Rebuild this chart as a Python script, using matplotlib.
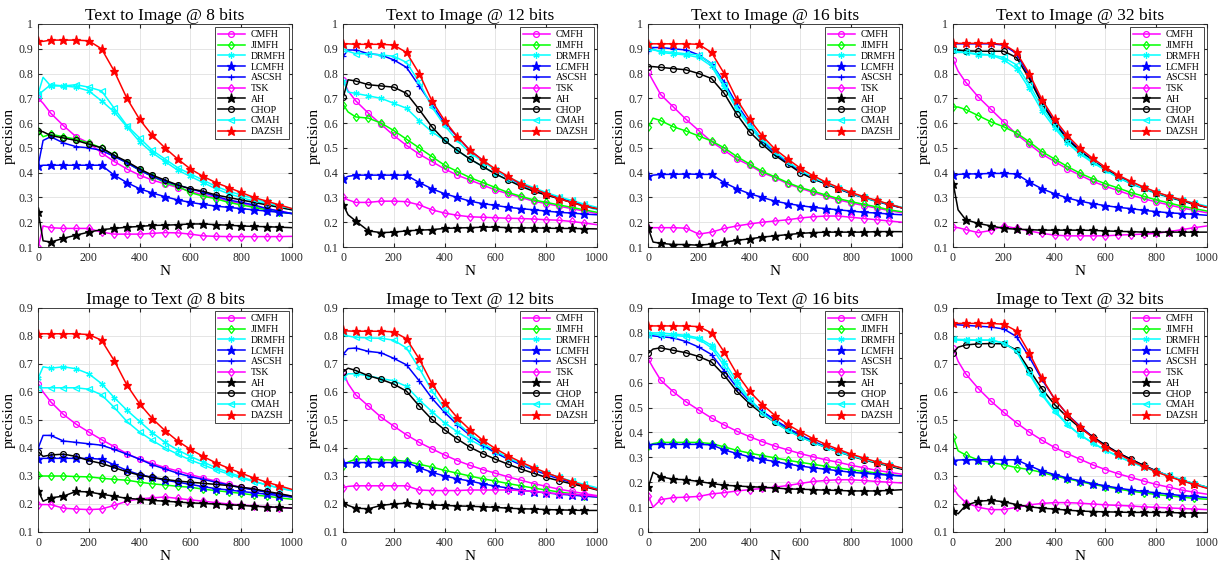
import matplotlib
matplotlib.use("Agg")
import matplotlib.pyplot as plt
from matplotlib.ticker import FuncFormatter, MultipleLocator

plt.rcParams['font.family'] = ['Liberation Serif', 'DejaVu Serif']

N = [1, 20, 50, 100, 150, 200, 250, 300, 350, 400, 450, 500, 550, 600,
     650, 700, 750, 800, 850, 900, 950, 1000]
methods = ["CMFH", "JIMFH", "DRMFH", "LCMFH", "ASCSH", "TSK", "AH", "CHOP", "CMAH", "DAZSH"]
titles = ["Text to Image @ 8 bits", "Text to Image @ 12 bits", "Text to Image @ 16 bits",
          "Text to Image @ 32 bits", "Image to Text @ 8 bits", "Image to Text @ 12 bits",
          "Image to Text @ 16 bits", "Image to Text @ 32 bits"]
ylims = [(0.1, 1.0)] * 4 + [(0.1, 0.9), (0.1, 0.9), (0.0, 0.9), (0.1, 0.9)]

t2i_8 = {
    "CMFH":  [0.70, 0.68, 0.64, 0.59, 0.545, 0.52, 0.48, 0.445, 0.415, 0.39, 0.37, 0.355, 0.34, 0.325, 0.31, 0.30, 0.285, 0.275, 0.265, 0.255, 0.245, 0.235],
    "JIMFH": [0.57, 0.545, 0.555, 0.545, 0.535, 0.52, 0.50, 0.47, 0.44, 0.41, 0.385, 0.36, 0.345, 0.32, 0.305, 0.295, 0.28, 0.27, 0.26, 0.25, 0.24, 0.235],
    "DRMFH": [0.72, 0.785, 0.75, 0.75, 0.745, 0.73, 0.69, 0.645, 0.585, 0.525, 0.48, 0.445, 0.41, 0.385, 0.36, 0.335, 0.315, 0.30, 0.285, 0.275, 0.26, 0.25],
    "LCMFH": [0.425, 0.43, 0.43, 0.43, 0.43, 0.43, 0.43, 0.39, 0.36, 0.335, 0.318, 0.303, 0.29, 0.28, 0.272, 0.265, 0.26, 0.255, 0.25, 0.245, 0.24, 0.235],
    "ASCSH": [0.43, 0.53, 0.545, 0.52, 0.505, 0.50, 0.49, 0.465, 0.44, 0.41, 0.385, 0.365, 0.35, 0.335, 0.32, 0.305, 0.29, 0.28, 0.27, 0.255, 0.245, 0.235],
    "TSK":   [0.10, 0.185, 0.178, 0.175, 0.175, 0.175, 0.16, 0.152, 0.152, 0.152, 0.155, 0.158, 0.157, 0.152, 0.145, 0.143, 0.142, 0.142, 0.142, 0.142, 0.142, 0.143],
    "AH":    [0.24, 0.125, 0.12, 0.135, 0.148, 0.16, 0.17, 0.175, 0.18, 0.183, 0.187, 0.188, 0.19, 0.193, 0.193, 0.19, 0.188, 0.185, 0.183, 0.182, 0.18, 0.178],
    "CHOP":  [0.57, 0.565, 0.55, 0.54, 0.53, 0.515, 0.50, 0.47, 0.445, 0.415, 0.39, 0.37, 0.35, 0.335, 0.325, 0.31, 0.30, 0.29, 0.28, 0.27, 0.26, 0.25],
    "CMAH":  [0.715, 0.73, 0.755, 0.75, 0.755, 0.745, 0.73, 0.66, 0.59, 0.54, 0.49, 0.455, 0.42, 0.395, 0.37, 0.345, 0.325, 0.31, 0.295, 0.28, 0.265, 0.255],
    "DAZSH": [0.93, 0.93, 0.935, 0.935, 0.935, 0.932, 0.90, 0.81, 0.70, 0.615, 0.55, 0.50, 0.455, 0.415, 0.385, 0.36, 0.34, 0.32, 0.30, 0.285, 0.27, 0.255],
}
t2i_12 = {
    "CMFH":  [0.775, 0.73, 0.69, 0.64, 0.595, 0.55, 0.51, 0.475, 0.445, 0.415, 0.39, 0.37, 0.35, 0.33, 0.315, 0.30, 0.285, 0.275, 0.265, 0.255, 0.245, 0.235],
    "JIMFH": [0.675, 0.645, 0.625, 0.62, 0.60, 0.57, 0.535, 0.50, 0.465, 0.43, 0.405, 0.38, 0.36, 0.34, 0.32, 0.305, 0.29, 0.28, 0.27, 0.26, 0.25, 0.24],
    "DRMFH": [0.77, 0.725, 0.72, 0.71, 0.70, 0.68, 0.66, 0.61, 0.565, 0.53, 0.49, 0.455, 0.425, 0.395, 0.37, 0.35, 0.33, 0.31, 0.295, 0.28, 0.265, 0.25],
    "LCMFH": [0.375, 0.385, 0.39, 0.39, 0.39, 0.39, 0.39, 0.36, 0.335, 0.315, 0.30, 0.285, 0.275, 0.268, 0.26, 0.255, 0.25, 0.245, 0.24, 0.237, 0.233, 0.23],
    "ASCSH": [0.87, 0.895, 0.895, 0.88, 0.875, 0.855, 0.825, 0.75, 0.675, 0.60, 0.545, 0.49, 0.45, 0.41, 0.38, 0.355, 0.335, 0.315, 0.298, 0.283, 0.27, 0.255],
    "TSK":   [0.30, 0.29, 0.28, 0.28, 0.285, 0.285, 0.283, 0.27, 0.25, 0.237, 0.228, 0.222, 0.22, 0.218, 0.216, 0.215, 0.213, 0.21, 0.208, 0.203, 0.197, 0.19],
    "AH":    [0.27, 0.23, 0.205, 0.165, 0.158, 0.16, 0.165, 0.168, 0.17, 0.175, 0.177, 0.178, 0.18, 0.18, 0.178, 0.177, 0.177, 0.176, 0.175, 0.175, 0.174, 0.173],
    "CHOP":  [0.705, 0.775, 0.77, 0.755, 0.75, 0.745, 0.72, 0.655, 0.585, 0.53, 0.49, 0.455, 0.425, 0.395, 0.37, 0.345, 0.325, 0.31, 0.295, 0.28, 0.265, 0.255],
    "CMAH":  [0.90, 0.89, 0.88, 0.88, 0.875, 0.87, 0.845, 0.765, 0.665, 0.59, 0.53, 0.48, 0.445, 0.41, 0.38, 0.36, 0.34, 0.32, 0.303, 0.288, 0.273, 0.26],
    "DAZSH": [0.92, 0.92, 0.918, 0.918, 0.918, 0.915, 0.885, 0.80, 0.69, 0.61, 0.545, 0.49, 0.45, 0.415, 0.385, 0.355, 0.335, 0.315, 0.295, 0.28, 0.265, 0.255],
}
t2i_16 = {
    "CMFH":  [0.805, 0.77, 0.715, 0.665, 0.615, 0.57, 0.525, 0.49, 0.455, 0.43, 0.40, 0.38, 0.355, 0.337, 0.32, 0.305, 0.29, 0.278, 0.267, 0.257, 0.247, 0.238],
    "JIMFH": [0.585, 0.62, 0.61, 0.585, 0.568, 0.548, 0.528, 0.50, 0.465, 0.435, 0.405, 0.383, 0.36, 0.34, 0.325, 0.31, 0.295, 0.283, 0.272, 0.262, 0.25, 0.242],
    "DRMFH": [0.925, 0.90, 0.885, 0.88, 0.875, 0.865, 0.83, 0.745, 0.655, 0.585, 0.525, 0.475, 0.44, 0.405, 0.375, 0.355, 0.335, 0.315, 0.298, 0.283, 0.27, 0.258],
    "LCMFH": [0.385, 0.39, 0.393, 0.393, 0.395, 0.393, 0.393, 0.36, 0.335, 0.315, 0.30, 0.285, 0.275, 0.267, 0.26, 0.255, 0.25, 0.245, 0.24, 0.237, 0.233, 0.23],
    "ASCSH": [0.89, 0.905, 0.905, 0.90, 0.895, 0.875, 0.84, 0.765, 0.675, 0.60, 0.53, 0.48, 0.44, 0.405, 0.375, 0.355, 0.335, 0.315, 0.30, 0.285, 0.27, 0.258],
    "TSK":   [0.175, 0.178, 0.178, 0.178, 0.176, 0.152, 0.16, 0.175, 0.185, 0.193, 0.20, 0.205, 0.21, 0.217, 0.222, 0.225, 0.225, 0.22, 0.215, 0.21, 0.205, 0.20],
    "AH":    [0.175, 0.12, 0.115, 0.11, 0.11, 0.107, 0.112, 0.12, 0.127, 0.133, 0.14, 0.145, 0.15, 0.155, 0.158, 0.16, 0.16, 0.16, 0.16, 0.162, 0.162, 0.162],
    "CHOP":  [0.828, 0.828, 0.825, 0.82, 0.815, 0.80, 0.78, 0.72, 0.635, 0.565, 0.515, 0.47, 0.435, 0.40, 0.375, 0.355, 0.335, 0.317, 0.30, 0.285, 0.272, 0.258],
    "CMAH":  [0.905, 0.895, 0.89, 0.885, 0.88, 0.875, 0.84, 0.755, 0.665, 0.595, 0.535, 0.485, 0.445, 0.41, 0.38, 0.358, 0.338, 0.318, 0.30, 0.286, 0.273, 0.26],
    "DAZSH": [0.92, 0.92, 0.92, 0.92, 0.92, 0.918, 0.885, 0.80, 0.695, 0.615, 0.548, 0.495, 0.455, 0.418, 0.388, 0.362, 0.34, 0.32, 0.303, 0.288, 0.273, 0.258],
}
t2i_32 = {
    "CMFH":  [0.855, 0.81, 0.765, 0.705, 0.655, 0.605, 0.555, 0.515, 0.475, 0.445, 0.415, 0.39, 0.365, 0.345, 0.328, 0.31, 0.295, 0.282, 0.27, 0.258, 0.248, 0.238],
    "JIMFH": [0.665, 0.665, 0.655, 0.63, 0.605, 0.585, 0.56, 0.525, 0.485, 0.455, 0.425, 0.398, 0.375, 0.355, 0.338, 0.32, 0.305, 0.29, 0.278, 0.265, 0.255, 0.245],
    "DRMFH": [0.895, 0.89, 0.885, 0.875, 0.875, 0.855, 0.82, 0.74, 0.65, 0.58, 0.52, 0.475, 0.44, 0.41, 0.38, 0.355, 0.335, 0.315, 0.30, 0.285, 0.272, 0.26],
    "LCMFH": [0.39, 0.393, 0.395, 0.395, 0.397, 0.397, 0.395, 0.362, 0.335, 0.315, 0.298, 0.285, 0.275, 0.267, 0.26, 0.255, 0.248, 0.243, 0.238, 0.235, 0.232, 0.228],
    "ASCSH": [0.92, 0.92, 0.92, 0.92, 0.92, 0.915, 0.88, 0.79, 0.685, 0.605, 0.54, 0.49, 0.45, 0.415, 0.385, 0.36, 0.34, 0.32, 0.303, 0.288, 0.273, 0.26],
    "TSK":   [0.18, 0.178, 0.17, 0.158, 0.167, 0.185, 0.175, 0.165, 0.155, 0.148, 0.145, 0.145, 0.145, 0.145, 0.148, 0.15, 0.152, 0.155, 0.162, 0.17, 0.178, 0.185],
    "AH":    [0.355, 0.25, 0.21, 0.195, 0.185, 0.175, 0.172, 0.17, 0.168, 0.168, 0.168, 0.168, 0.167, 0.165, 0.163, 0.162, 0.16, 0.16, 0.16, 0.16, 0.16, 0.16],
    "CHOP":  [0.895, 0.895, 0.892, 0.89, 0.89, 0.89, 0.865, 0.78, 0.68, 0.60, 0.535, 0.487, 0.448, 0.413, 0.383, 0.358, 0.338, 0.318, 0.302, 0.287, 0.273, 0.26],
    "CMAH":  [0.895, 0.885, 0.885, 0.88, 0.875, 0.865, 0.835, 0.755, 0.665, 0.59, 0.525, 0.48, 0.445, 0.41, 0.38, 0.358, 0.338, 0.32, 0.303, 0.29, 0.277, 0.265],
    "DAZSH": [0.922, 0.922, 0.922, 0.922, 0.922, 0.918, 0.885, 0.80, 0.695, 0.615, 0.55, 0.498, 0.458, 0.422, 0.39, 0.365, 0.342, 0.322, 0.305, 0.29, 0.275, 0.26],
}
i2t_8 = {
    "CMFH":  [0.63, 0.60, 0.565, 0.52, 0.485, 0.457, 0.43, 0.405, 0.38, 0.36, 0.345, 0.33, 0.318, 0.305, 0.293, 0.282, 0.27, 0.26, 0.252, 0.243, 0.235, 0.228],
    "JIMFH": [0.305, 0.30, 0.30, 0.30, 0.298, 0.297, 0.292, 0.288, 0.285, 0.278, 0.272, 0.268, 0.263, 0.26, 0.253, 0.248, 0.243, 0.238, 0.232, 0.228, 0.222, 0.217],
    "DRMFH": [0.65, 0.69, 0.685, 0.69, 0.683, 0.665, 0.63, 0.58, 0.535, 0.495, 0.455, 0.42, 0.393, 0.37, 0.35, 0.33, 0.313, 0.297, 0.282, 0.268, 0.257, 0.247],
    "LCMFH": [0.362, 0.363, 0.363, 0.363, 0.363, 0.363, 0.36, 0.34, 0.32, 0.305, 0.295, 0.285, 0.278, 0.27, 0.262, 0.255, 0.25, 0.245, 0.24, 0.235, 0.23, 0.225],
    "ASCSH": [0.40, 0.445, 0.445, 0.425, 0.42, 0.415, 0.41, 0.395, 0.378, 0.36, 0.34, 0.325, 0.31, 0.298, 0.288, 0.278, 0.268, 0.258, 0.25, 0.242, 0.233, 0.225],
    "TSK":   [0.198, 0.198, 0.198, 0.185, 0.182, 0.18, 0.182, 0.195, 0.21, 0.218, 0.222, 0.225, 0.22, 0.215, 0.21, 0.205, 0.20, 0.197, 0.193, 0.19, 0.187, 0.185],
    "AH":    [0.247, 0.21, 0.222, 0.228, 0.245, 0.243, 0.235, 0.228, 0.22, 0.217, 0.213, 0.21, 0.207, 0.204, 0.202, 0.20, 0.197, 0.195, 0.192, 0.19, 0.188, 0.185],
    "CHOP":  [0.387, 0.37, 0.375, 0.378, 0.37, 0.355, 0.345, 0.33, 0.315, 0.303, 0.295, 0.288, 0.282, 0.278, 0.274, 0.27, 0.266, 0.26, 0.254, 0.245, 0.237, 0.228],
    "CMAH":  [0.615, 0.615, 0.615, 0.615, 0.615, 0.61, 0.59, 0.545, 0.495, 0.457, 0.427, 0.40, 0.378, 0.357, 0.34, 0.322, 0.307, 0.292, 0.28, 0.268, 0.258, 0.248],
    "DAZSH": [0.808, 0.808, 0.808, 0.808, 0.808, 0.805, 0.785, 0.712, 0.625, 0.558, 0.505, 0.462, 0.425, 0.395, 0.37, 0.347, 0.328, 0.31, 0.293, 0.278, 0.265, 0.252],
}
i2t_12 = {
    "CMFH":  [0.67, 0.63, 0.59, 0.55, 0.51, 0.478, 0.447, 0.42, 0.397, 0.375, 0.355, 0.338, 0.323, 0.31, 0.297, 0.285, 0.273, 0.263, 0.253, 0.245, 0.237, 0.23],
    "JIMFH": [0.335, 0.35, 0.36, 0.362, 0.358, 0.357, 0.352, 0.342, 0.332, 0.32, 0.31, 0.30, 0.29, 0.282, 0.273, 0.265, 0.257, 0.25, 0.243, 0.237, 0.23, 0.225],
    "DRMFH": [0.65, 0.665, 0.665, 0.658, 0.648, 0.64, 0.62, 0.572, 0.53, 0.49, 0.458, 0.43, 0.405, 0.383, 0.362, 0.343, 0.325, 0.31, 0.295, 0.28, 0.265, 0.252],
    "LCMFH": [0.345, 0.347, 0.348, 0.348, 0.348, 0.348, 0.348, 0.33, 0.313, 0.30, 0.29, 0.282, 0.272, 0.264, 0.257, 0.25, 0.244, 0.24, 0.235, 0.232, 0.228, 0.225],
    "ASCSH": [0.735, 0.755, 0.757, 0.745, 0.74, 0.72, 0.697, 0.64, 0.578, 0.527, 0.483, 0.445, 0.412, 0.383, 0.36, 0.34, 0.322, 0.305, 0.29, 0.277, 0.265, 0.253],
    "TSK":   [0.258, 0.263, 0.265, 0.265, 0.265, 0.265, 0.265, 0.25, 0.248, 0.248, 0.248, 0.25, 0.25, 0.25, 0.25, 0.248, 0.245, 0.24, 0.237, 0.235, 0.232, 0.228],
    "AH":    [0.205, 0.195, 0.185, 0.183, 0.195, 0.20, 0.203, 0.20, 0.197, 0.195, 0.193, 0.192, 0.19, 0.188, 0.185, 0.183, 0.182, 0.18, 0.179, 0.178, 0.177, 0.177],
    "CHOP":  [0.672, 0.685, 0.677, 0.658, 0.645, 0.628, 0.603, 0.55, 0.502, 0.465, 0.432, 0.403, 0.38, 0.36, 0.342, 0.325, 0.31, 0.295, 0.283, 0.272, 0.262, 0.25],
    "CMAH":  [0.81, 0.80, 0.795, 0.793, 0.792, 0.785, 0.757, 0.685, 0.605, 0.54, 0.49, 0.45, 0.418, 0.39, 0.365, 0.345, 0.327, 0.31, 0.295, 0.282, 0.27, 0.258],
    "DAZSH": [0.82, 0.818, 0.817, 0.817, 0.817, 0.815, 0.79, 0.718, 0.63, 0.562, 0.508, 0.465, 0.428, 0.398, 0.372, 0.35, 0.33, 0.312, 0.295, 0.28, 0.265, 0.252],
}
i2t_16 = {
    "CMFH":  [0.695, 0.66, 0.61, 0.563, 0.523, 0.49, 0.458, 0.43, 0.405, 0.383, 0.363, 0.345, 0.33, 0.315, 0.302, 0.29, 0.28, 0.268, 0.258, 0.248, 0.24, 0.232],
    "JIMFH": [0.345, 0.355, 0.36, 0.36, 0.36, 0.36, 0.355, 0.342, 0.328, 0.317, 0.307, 0.298, 0.288, 0.28, 0.272, 0.264, 0.257, 0.25, 0.243, 0.237, 0.23, 0.225],
    "DRMFH": [0.80, 0.80, 0.80, 0.795, 0.79, 0.78, 0.75, 0.685, 0.605, 0.535, 0.483, 0.445, 0.413, 0.385, 0.362, 0.343, 0.325, 0.308, 0.293, 0.28, 0.268, 0.256],
    "LCMFH": [0.35, 0.352, 0.352, 0.352, 0.352, 0.352, 0.35, 0.33, 0.315, 0.302, 0.292, 0.283, 0.273, 0.265, 0.258, 0.252, 0.246, 0.24, 0.236, 0.232, 0.228, 0.225],
    "ASCSH": [0.79, 0.788, 0.785, 0.78, 0.765, 0.743, 0.713, 0.648, 0.58, 0.525, 0.485, 0.45, 0.418, 0.39, 0.365, 0.343, 0.325, 0.308, 0.293, 0.28, 0.268, 0.255],
    "TSK":   [0.145, 0.10, 0.13, 0.138, 0.14, 0.143, 0.153, 0.158, 0.165, 0.17, 0.175, 0.18, 0.187, 0.195, 0.203, 0.207, 0.21, 0.21, 0.207, 0.203, 0.20, 0.197],
    "AH":    [0.18, 0.24, 0.222, 0.212, 0.21, 0.203, 0.195, 0.188, 0.185, 0.182, 0.18, 0.177, 0.173, 0.172, 0.17, 0.168, 0.167, 0.165, 0.165, 0.165, 0.167, 0.17],
    "CHOP":  [0.718, 0.735, 0.74, 0.73, 0.72, 0.705, 0.683, 0.63, 0.565, 0.515, 0.475, 0.44, 0.41, 0.383, 0.36, 0.34, 0.322, 0.305, 0.29, 0.277, 0.265, 0.252],
    "CMAH":  [0.79, 0.795, 0.79, 0.79, 0.785, 0.775, 0.74, 0.668, 0.59, 0.53, 0.478, 0.44, 0.408, 0.382, 0.36, 0.34, 0.322, 0.307, 0.292, 0.28, 0.268, 0.256],
    "DAZSH": [0.828, 0.828, 0.828, 0.828, 0.828, 0.825, 0.80, 0.723, 0.635, 0.565, 0.512, 0.468, 0.432, 0.402, 0.375, 0.352, 0.332, 0.313, 0.297, 0.282, 0.27, 0.257],
}
i2t_32 = {
    "CMFH":  [0.757, 0.71, 0.665, 0.612, 0.567, 0.527, 0.49, 0.457, 0.428, 0.402, 0.38, 0.36, 0.34, 0.323, 0.308, 0.295, 0.282, 0.27, 0.26, 0.25, 0.242, 0.235],
    "JIMFH": [0.44, 0.39, 0.375, 0.357, 0.348, 0.34, 0.33, 0.323, 0.313, 0.30, 0.29, 0.28, 0.27, 0.262, 0.253, 0.246, 0.24, 0.234, 0.229, 0.225, 0.22, 0.217],
    "DRMFH": [0.79, 0.788, 0.787, 0.785, 0.785, 0.775, 0.748, 0.67, 0.595, 0.535, 0.485, 0.447, 0.418, 0.392, 0.37, 0.35, 0.332, 0.315, 0.30, 0.285, 0.272, 0.26],
    "LCMFH": [0.355, 0.357, 0.358, 0.358, 0.358, 0.358, 0.358, 0.337, 0.318, 0.305, 0.293, 0.283, 0.273, 0.265, 0.257, 0.25, 0.245, 0.24, 0.235, 0.23, 0.227, 0.223],
    "ASCSH": [0.842, 0.84, 0.838, 0.835, 0.832, 0.825, 0.798, 0.725, 0.645, 0.575, 0.52, 0.478, 0.44, 0.41, 0.382, 0.36, 0.338, 0.318, 0.30, 0.285, 0.27, 0.258],
    "TSK":   [0.258, 0.232, 0.205, 0.188, 0.18, 0.18, 0.188, 0.197, 0.202, 0.205, 0.205, 0.203, 0.20, 0.197, 0.195, 0.193, 0.19, 0.188, 0.186, 0.184, 0.182, 0.18],
    "AH":    [0.175, 0.165, 0.195, 0.21, 0.213, 0.208, 0.198, 0.19, 0.185, 0.182, 0.178, 0.175, 0.173, 0.172, 0.171, 0.17, 0.17, 0.17, 0.17, 0.168, 0.168, 0.168],
    "CHOP":  [0.74, 0.76, 0.768, 0.772, 0.773, 0.772, 0.75, 0.68, 0.612, 0.555, 0.51, 0.472, 0.44, 0.41, 0.383, 0.36, 0.338, 0.318, 0.30, 0.285, 0.272, 0.26],
    "CMAH":  [0.79, 0.785, 0.785, 0.785, 0.785, 0.775, 0.745, 0.665, 0.59, 0.53, 0.483, 0.447, 0.418, 0.393, 0.37, 0.35, 0.333, 0.317, 0.302, 0.287, 0.273, 0.26],
    "DAZSH": [0.845, 0.845, 0.845, 0.845, 0.845, 0.842, 0.818, 0.74, 0.65, 0.575, 0.52, 0.475, 0.437, 0.405, 0.38, 0.355, 0.335, 0.315, 0.298, 0.283, 0.27, 0.256],
}
panels = [t2i_8, t2i_12, t2i_16, t2i_32, i2t_8, i2t_12, i2t_16, i2t_32]

styles = {
    "CMFH":  dict(color="#ff00ff", marker="o", mfc="none", ms=4.2),
    "JIMFH": dict(color="#00ff00", marker="d", mfc="none", ms=4.5),
    "DRMFH": dict(color="#00ffff", marker=(6, 2, 0), mfc="none", ms=4.5),
    "LCMFH": dict(color="#0000ff", marker="*", mfc="#0000ff", ms=6.5),
    "ASCSH": dict(color="#0000ff", marker="+", mfc="none", ms=5),
    "TSK":   dict(color="#ff00ff", marker="d", mfc="none", ms=4.5),
    "AH":    dict(color="#000000", marker="*", mfc="#000000", ms=6.5),
    "CHOP":  dict(color="#000000", marker="o", mfc="none", ms=4.2),
    "CMAH":  dict(color="#00ffff", marker="<", mfc="none", ms=4.5),
    "DAZSH": dict(color="#ff0000", marker="*", mfc="#ff0000", ms=6.5),
}
mark_idx = [0] + list(range(2, 21))

fig = plt.figure(figsize=(12.23, 5.66), dpi=100)
W, H = 1223.0, 566.0
lefts = [38, 343, 648, 953]
rows = [(24, 247), (308, 532)]

for i, data in enumerate(panels):
    r, c = divmod(i, 4)
    top, bot = rows[r]
    ax = fig.add_axes([lefts[c] / W, 1 - bot / H, 254 / W, (bot - top) / H])
    for m in methods:
        st = styles[m]
        ax.plot(N, data[m], color=st["color"], marker=st["marker"], mfc=st["mfc"],
                mec=st["color"], ms=st["ms"], mew=0.9, lw=1.1, label=m,
                markevery=mark_idx)
    ax.set_xlim(0, 1000)
    ax.set_ylim(*ylims[i])
    ax.xaxis.set_major_locator(MultipleLocator(200))
    ax.yaxis.set_major_locator(MultipleLocator(0.1))
    ax.yaxis.set_major_formatter(FuncFormatter(lambda v, p: "%g" % round(v, 2)))
    ax.grid(True, color="#e0e0e0", lw=0.6)
    ax.set_axisbelow(True)
    ax.tick_params(direction="in", length=3, labelsize=8.5, colors="#262626", top=True, right=True)
    for s in ax.spines.values():
        s.set_color("#262626")
        s.set_linewidth(0.6)
    ax.set_title(titles[i], fontsize=12.5, pad=3)
    ax.set_xlabel("N", fontsize=11, labelpad=1)
    ax.set_ylabel("precision", fontsize=11, labelpad=2)
    leg = ax.legend(loc="upper right", fontsize=7, frameon=True, fancybox=False,
                    edgecolor="#262626", framealpha=1, borderpad=0.3,
                    labelspacing=0.18, handlelength=2.8, handletextpad=0.6,
                    borderaxespad=0.35)
    leg.get_frame().set_linewidth(0.6)

fig.savefig("out.png", dpi=100)
